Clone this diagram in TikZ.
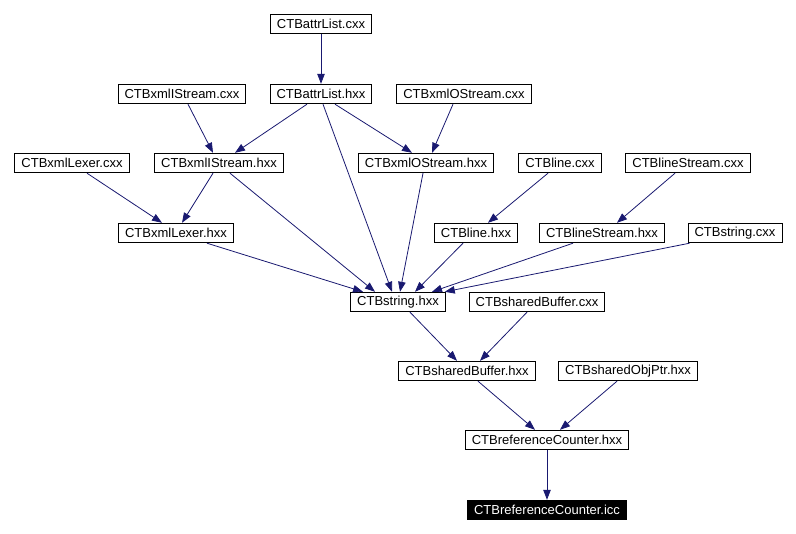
\documentclass[tikz,border=0pt]{standalone}
\usepackage{fontspec}
\setmainfont{Liberation Sans}
\usetikzlibrary{arrows.meta}
\definecolor{edgeblue}{RGB}{25,25,112}
\begin{document}
\begin{tikzpicture}[x=1pt,y=-1pt]
\tikzstyle{file}=[draw,line width=0.9pt,inner xsep=6.5pt,inner ysep=0pt,minimum height=19.5pt,font=\fontsize{13}{15}\selectfont]
\tikzstyle{root}=[file,fill=black,text=white]
\tikzstyle{dep}=[draw=edgeblue,line width=0.8pt,-{Triangle[length=10pt,width=7.5pt]}]
\useasboundingbox (0,0) rectangle (796,534);

\node[file] at (321,24) (alc) {CTBattrList.cxx};
\node[file] at (182,94) (xic) {CTBxmlIStream.cxx};
\node[file] at (321,94) (alh) {CTBattrList.hxx};
\node[file] at (464,94) (xoc) {CTBxmlOStream.cxx};
\node[file] at (72,163) (xlc) {CTBxmlLexer.cxx};
\node[file] at (219,163) (xih) {CTBxmlIStream.hxx};
\node[file] at (426,163) (xoh) {CTBxmlOStream.hxx};
\node[file] at (560,163) (lnc) {CTBline.cxx};
\node[file] at (688,163) (lsc) {CTBlineStream.cxx};
\node[file] at (176,233) (xlh) {CTBxmlLexer.hxx};
\node[file] at (476,233) (lnh) {CTBline.hxx};
\node[file] at (602,233) (lsh) {CTBlineStream.hxx};
\node[file] at (735,233) (stc) {CTBstring.cxx};
\node[file] at (398,302) (sth) {CTBstring.hxx};
\node[file] at (537,302) (sbc) {CTBsharedBuffer.cxx};
\node[file] at (467,371) (sbh) {CTBsharedBuffer.hxx};
\node[file] at (628,371) (sop) {CTBsharedObjPtr.hxx};
\node[file] at (547,440) (rch) {CTBreferenceCounter.hxx};
\node[root] at (547,510) (rci) {CTBreferenceCounter.icc};

\draw[dep] (alc.south) -- (alh.north);
\draw[dep] ([xshift=6]xic.south) -- ([xshift=-6]xih.north);
\draw[dep] ([xshift=-14]alh.south) -- ([xshift=16]xih.north);
\draw[dep] ([xshift=2]alh.south) -- ([xshift=-6]sth.north);
\draw[dep] ([xshift=14]alh.south) -- ([xshift=-14]xoh.north);
\draw[dep] ([xshift=-11]xoc.south) -- ([xshift=6]xoh.north);
\draw[dep] ([xshift=15]xlc.south) -- ([xshift=-14]xlh.north);
\draw[dep] ([xshift=-6]xih.south) -- ([xshift=6]xlh.north);
\draw[dep] ([xshift=11]xih.south) -- ([xshift=-23]sth.north);
\draw[dep] ([xshift=-3]xoh.south) -- ([xshift=2]sth.north);
\draw[dep] ([xshift=-12]lnc.south) -- ([xshift=12]lnh.north);
\draw[dep] ([xshift=-13]lsc.south) -- ([xshift=15]lsh.north);
\draw[dep] ([xshift=31]xlh.south) -- ([xshift=-35]sth.north);
\draw[dep] ([xshift=-13]lnh.south) -- ([xshift=17]sth.north);
\draw[dep] ([xshift=-29]lsh.south) -- ([xshift=34]sth.north);
\draw[dep] ([xshift=2]stc.south west) -- ([xshift=-1]sth.north east);
\draw[dep] ([xshift=12]sth.south) -- ([xshift=-10]sbh.north);
\draw[dep] ([xshift=-10]sbc.south) -- ([xshift=13]sbh.north);
\draw[dep] ([xshift=11]sbh.south) -- ([xshift=-12]rch.north);
\draw[dep] ([xshift=-11]sop.south) -- ([xshift=13]rch.north);
\draw[dep] (rch.south) -- (rci.north);
\end{tikzpicture}
\end{document}
